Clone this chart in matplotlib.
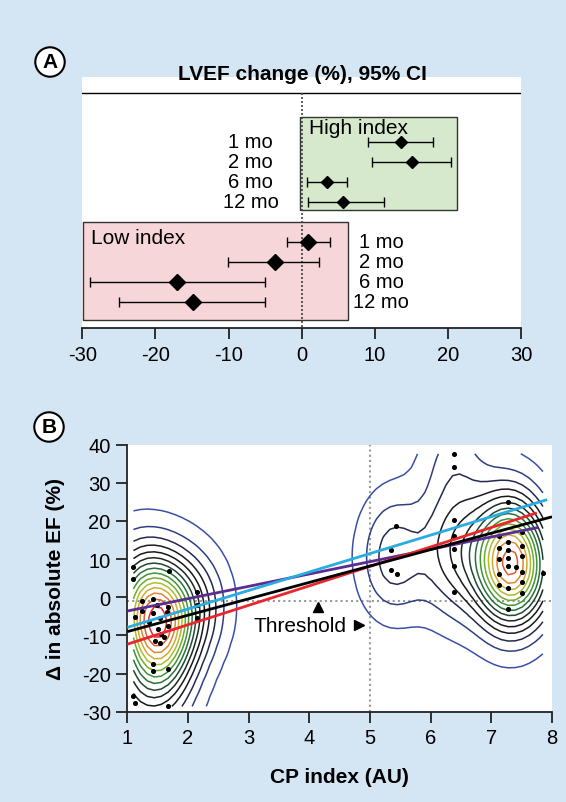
import numpy as np
import matplotlib
matplotlib.use("Agg")
import matplotlib.pyplot as plt
from matplotlib.patches import Rectangle
from matplotlib.colors import LinearSegmentedColormap

plt.rcParams['font.family'] = ['Liberation Sans', 'DejaVu Sans']
plt.rcParams['axes.unicode_minus'] = False

# ---- panel A data: LVEF change (%), 95% CI
periods = ['1 mo', '2 mo', '6 mo', '12 mo']
high_est = [13.6, 15.0, 3.4, 5.6]
high_lo = [9.0, 9.6, 0.7, 0.8]
high_hi = [17.9, 20.4, 6.2, 11.2]
low_est = [0.9, -3.7, -17.1, -14.9]
low_lo = [-2.1, -10.1, -28.9, -25.0]
low_hi = [3.8, 2.3, -5.0, -5.0]

# ---- panel B data: CP index vs change in EF
cp_left = [1.10, 1.10, 1.69, 2.15, 2.15, 2.15, 1.24, 1.24, 1.42, 1.48, 1.43, 1.54, 1.65,
           1.67, 1.12, 1.51, 1.45, 1.54, 1.60, 1.67, 1.43, 1.43, 1.67, 1.10, 1.12, 1.67,
           1.35, 1.55]
ef_left = [7.9, 4.8, 7.0, 1.3, -2.0, -5.5, -0.9, -3.5, -0.5, -2.0, -4.0, -5.5, -3.8,
           -2.6, -5.2, -8.3, -11.4, -12.0, -10.5, -7.5, -17.5, -19.3, -18.8, -25.8, -27.6, -28.6,
           -6.5, -9.5]
cp_right = [5.42, 5.34, 5.34, 5.45, 6.39, 6.39, 6.39, 6.39, 6.39, 6.39, 6.39, 7.27,
            7.13, 7.27, 7.13, 7.27, 7.13, 7.27, 7.27, 7.13, 7.13, 7.50, 7.50, 7.50, 7.50,
            7.50, 7.50, 7.27, 7.27, 7.85, 7.40]
ef_right = [18.8, 12.4, 7.2, 6.0, 37.6, 34.2, 20.3, 16.0, 12.7, 8.3, 1.5, 25.1,
            16.1, 14.4, 12.8, 12.3, 10.1, 10.2, 8.3, 6.0, 3.2, 6.5, 4.0, 17.1, 10.9,
            13.5, 1.0, -3.1, 2.5, 6.3, 8.0]

# regression fits: slope, intercept, x range end
fit_colors = ['#5b2d90', '#2aace2', '#e8262b', '#000000']
fit_slope = [3.235, 4.84, 5.10, 4.30]
fit_icpt = [-6.835, -12.74, -17.4, -13.3]
fit_xend = [7.77, 7.92, 7.75, 8.0]

threshold_cp = 5.0
threshold_ef = -1.0

bg = '#d4e5f4'
fig = plt.figure(figsize=(5.66, 8.03), dpi=100, facecolor=bg)
W, H = 566, 803

# ================= Panel A =================
axA = fig.add_axes([82.3 / W, 1 - 329.3 / H, (521.5 - 82.3) / W, (329.3 - 77.7) / H])
axA.set_facecolor('white')
high_rows = np.arange(4)
low_rows = np.arange(4) + 5

axA.add_patch(Rectangle((-0.3, -1.25), 21.5, 4.68, facecolor='#d6e9cd',
                        edgecolor='#333333', lw=1.0, zorder=1))
axA.add_patch(Rectangle((-29.95, 4.0), 36.25, 4.9, facecolor='#f7d6d9',
                        edgecolor='#333333', lw=1.0, zorder=1))
axA.axhline(-2.44, color='black', lw=1.0, zorder=2)
axA.plot([0, 0], [-2.44, 9.4], color='#444444', ls=(0, (1.2, 1.2)), lw=1.2, zorder=2)

axA.errorbar(high_est, high_rows,
             xerr=[np.array(high_est) - np.array(high_lo), np.array(high_hi) - np.array(high_est)],
             fmt='D', color='black', ms=6, capsize=3.5, elinewidth=1.0, capthick=1.0, zorder=3)
axA.errorbar(low_est, low_rows,
             xerr=[np.array(low_est) - np.array(low_lo), np.array(low_hi) - np.array(low_est)],
             fmt='D', color='black', ms=8.5, capsize=3.5, elinewidth=1.0, capthick=1.0, zorder=3)

for r, p in zip(high_rows, periods):
    axA.text(-7.0, r, p, ha='center', va='center', fontsize=14.5)
for r, p in zip(low_rows, periods):
    axA.text(10.8, r, p, ha='center', va='center', fontsize=14.5)
axA.text(1.0, -0.72, 'High index', ha='left', va='center', fontsize=15, zorder=4)
axA.text(-28.8, 4.78, 'Low index', ha='left', va='center', fontsize=15, zorder=4)

axA.set_xlim(-30, 30)
axA.set_ylim(9.33, -3.25)
axA.set_xticks([-30, -20, -10, 0, 10, 20, 30])
axA.set_yticks([])
for s in ['left', 'right', 'top']:
    axA.spines[s].set_visible(False)
axA.spines['bottom'].set_color('#222222')
axA.spines['bottom'].set_linewidth(1.3)
axA.tick_params(axis='x', direction='out', length=8, width=1.3, pad=4,
                labelsize=14.5, color='#222222')

fig.text(302 / W, 1 - 75 / H, 'LVEF change (%), 95% CI', ha='center', va='center',
         fontsize=15, fontweight='bold')

# ================= Panel B =================
axB = fig.add_axes([127.4 / W, 1 - 712.7 / H, (552 - 127.4) / W, 267 / H])
axB.set_facecolor('white')

cp_all = np.array(cp_left + cp_right)
ef_all = np.array(ef_left + ef_right)
gx = np.linspace(cp_all.min(), cp_all.max(), 60)
gy = np.linspace(ef_all.min(), ef_all.max(), 60)
GX, GY = np.meshgrid(gx, gy)
hx, hy = 0.38, 9.5
Z = np.zeros_like(GX)
for xi, yi in zip(cp_all, ef_all):
    Z += np.exp(-0.5 * ((GX - xi) / hx) ** 2 - 0.5 * ((GY - yi) / hy) ** 2)
Z /= (2 * np.pi * hx * hy * len(cp_all))
levels = np.linspace(Z.max() * 0.045, Z.max() * 0.95, 15)
cmap = LinearSegmentedColormap.from_list('kde', ['#3b4fa8', '#2a3c78', '#1c1c2c', '#161616',
                                                 '#1b2a22', '#25553a', '#2f8a3a', '#6aaa30',
                                                 '#b9c030', '#e0a030', '#e06a30', '#e02a2a'])
axB.contour(GX, GY, Z, levels=levels, cmap=cmap, linewidths=1.1, zorder=2)

axB.axvline(threshold_cp, color='#9a9a9a', ls=(0, (1, 1.5)), lw=1.5, zorder=1)
axB.axhline(threshold_ef, color='#9a9a9a', ls=(0, (1, 1.5)), lw=1.5, zorder=1)

axB.scatter(cp_all, ef_all, s=7, color='black', zorder=3)

for c, m, b, xe in zip(fit_colors, fit_slope, fit_icpt, fit_xend):
    xs = np.array([1.0, xe])
    axB.plot(xs, np.polyval([m, b], xs), color=c, lw=2.0, zorder=4, solid_capstyle='butt')

axB.text(3.85, -7.4, 'Threshold', ha='center', va='center', fontsize=15, zorder=5)
axB.plot([4.15], [-2.6], marker='^', color='black', ms=7, zorder=5)
axB.plot([4.82], [-7.4], marker='>', color='black', ms=7, zorder=5)

axB.set_xlim(1, 8)
axB.set_ylim(-30, 40)
axB.set_xticks(range(1, 9))
axB.set_yticks(range(-30, 41, 10))
for s in ['right', 'top']:
    axB.spines[s].set_visible(False)
for s in ['left', 'bottom']:
    axB.spines[s].set_color('#222222')
    axB.spines[s].set_linewidth(1.3)
axB.tick_params(direction='out', length=8, width=1.3, pad=4, labelsize=14.5, color='#222222')
axB.set_xlabel('CP index (AU)', fontsize=15, fontweight='bold', labelpad=14)
axB.set_ylabel('\u0394 in absolute EF (%)', fontsize=15, fontweight='bold', labelpad=12)

# circled panel letters
for lx, ly, lab in [(50, 63, 'A'), (49, 428, 'B')]:
    fig.text(lx / W, 1 - ly / H, lab, ha='center', va='center', fontsize=15,
             fontweight='bold',
             bbox=dict(boxstyle='circle,pad=0.25', fc='white', ec='black', lw=1.5))

fig.savefig('out.png', dpi=100, facecolor=bg)
